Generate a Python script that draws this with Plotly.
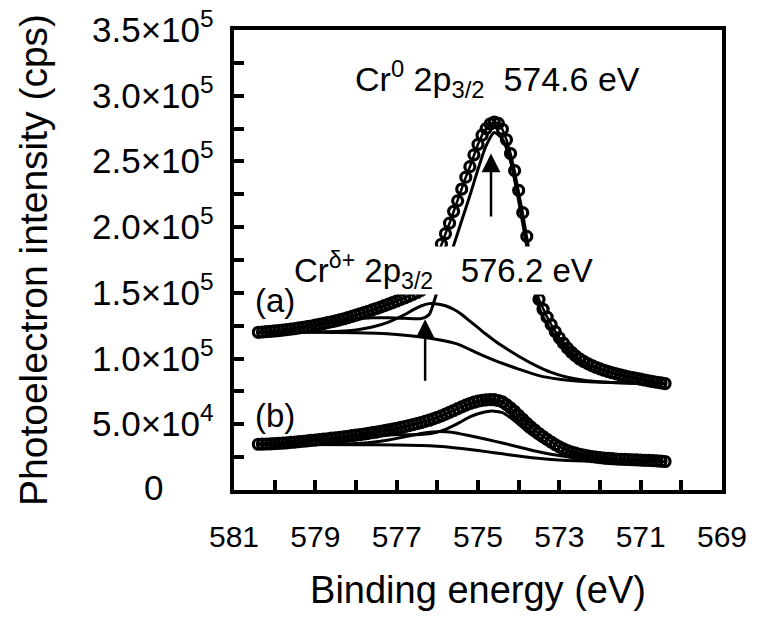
import plotly.graph_objects as go

# ---------------- data (intensity in units of 1e5 cps) ----------------
E = [580.4, 580.3, 580.2, 580.1, 580.0, 579.9, 579.8, 579.7, 579.6, 579.5,
     579.4, 579.3, 579.2, 579.1, 579.0, 578.9, 578.8, 578.7, 578.6, 578.5,
     578.4, 578.3, 578.2, 578.1, 578.0, 577.9, 577.8, 577.7, 577.6, 577.5,
     577.4, 577.3, 577.2, 577.1, 577.0, 576.9, 576.8, 576.7, 576.6, 576.5,
     576.4, 576.3, 576.2, 576.1, 576.0, 575.9, 575.8, 575.7, 575.6, 575.5,
     575.4, 575.3, 575.2, 575.1, 575.0, 574.9, 574.8, 574.7, 574.6, 574.5,
     574.4, 574.3, 574.2, 574.1, 574.0, 573.9, 573.8, 573.7, 573.6, 573.5,
     573.4, 573.3, 573.2, 573.1, 573.0, 572.9, 572.8, 572.7, 572.6, 572.5,
     572.4, 572.3, 572.2, 572.1, 572.0, 571.9, 571.8, 571.7, 571.6, 571.5,
     571.4, 571.3, 571.2, 571.1, 571.0, 570.9, 570.8, 570.7, 570.6, 570.5,
     570.4]

data_a = [1.200, 1.202, 1.205, 1.207, 1.210, 1.213, 1.217, 1.220, 1.224, 1.228,
          1.233, 1.238, 1.243, 1.248, 1.254, 1.260, 1.266, 1.273, 1.280, 1.287,
          1.295, 1.303, 1.312, 1.321, 1.330, 1.340, 1.350, 1.360, 1.370, 1.381,
          1.392, 1.403, 1.414, 1.426, 1.438, 1.450, 1.462, 1.475, 1.488, 1.503,
          1.520, 1.560, 1.615, 1.695, 1.785, 1.870, 1.950, 2.030, 2.120, 2.200,
          2.290, 2.380, 2.460, 2.550, 2.630, 2.700, 2.750, 2.785, 2.800, 2.790,
          2.745, 2.665, 2.560, 2.430, 2.280, 2.110, 1.930, 1.740, 1.565, 1.450,
          1.375, 1.315, 1.258, 1.205, 1.158, 1.117, 1.080, 1.048, 1.020, 0.997,
          0.978, 0.961, 0.947, 0.934, 0.922, 0.911, 0.901, 0.892, 0.884, 0.876,
          0.868, 0.861, 0.855, 0.849, 0.843, 0.837, 0.831, 0.825, 0.820, 0.815,
          0.810]

data_b = [0.348, 0.349, 0.350, 0.351, 0.353, 0.355, 0.357, 0.359, 0.362, 0.365,
          0.368, 0.371, 0.374, 0.377, 0.380, 0.383, 0.387, 0.390, 0.394, 0.397,
          0.401, 0.405, 0.409, 0.413, 0.417, 0.421, 0.426, 0.431, 0.436, 0.441,
          0.447, 0.452, 0.458, 0.464, 0.470, 0.476, 0.483, 0.490, 0.497, 0.505,
          0.513, 0.522, 0.531, 0.541, 0.552, 0.564, 0.577, 0.591, 0.605, 0.619,
          0.633, 0.646, 0.658, 0.668, 0.676, 0.682, 0.686, 0.688, 0.687, 0.681,
          0.670, 0.650, 0.625, 0.598, 0.568, 0.538, 0.508, 0.480, 0.455, 0.430,
          0.407, 0.385, 0.365, 0.345, 0.328, 0.313, 0.300, 0.289, 0.280, 0.272,
          0.265, 0.259, 0.254, 0.250, 0.246, 0.243, 0.240, 0.238, 0.236, 0.234,
          0.233, 0.232, 0.230, 0.229, 0.228, 0.226, 0.225, 0.223, 0.221, 0.219,
          0.217]

# background and fitted components, spectrum (a)
bg_a_E = [580.4, 579.0, 578.0, 577.5, 577.0, 576.5, 576.0, 575.5, 575.0, 574.5,
          574.0, 573.5, 573.0, 572.5, 572.0, 571.0, 570.4]
bg_a = [1.200, 1.200, 1.197, 1.192, 1.183, 1.168, 1.145, 1.110, 1.040, 0.975,
        0.920, 0.870, 0.843, 0.828, 0.820, 0.813, 0.810]

crd_a_E = [580.4, 579.0, 578.4, 578.0, 577.6, 577.2, 576.8, 576.6, 576.4, 576.2,
           576.0, 575.8, 575.6, 575.4, 575.2, 575.0, 574.8, 574.6, 574.4, 574.2,
           574.0, 573.6, 573.2, 572.8, 572.4, 572.0, 571.4, 570.4]
crd_a = [1.200, 1.202, 1.207, 1.218, 1.240, 1.278, 1.335, 1.370, 1.400, 1.418,
         1.416, 1.402, 1.375, 1.335, 1.285, 1.235, 1.185, 1.138, 1.095, 1.055,
         1.018, 0.950, 0.895, 0.858, 0.836, 0.824, 0.815, 0.810]

cr0_a_E = [580.4, 580.0, 579.6, 579.2, 578.8, 578.4, 578.0, 577.6, 577.2, 576.8,
           576.4, 576.2, 576.0, 575.8, 575.6, 575.4, 575.2, 575.0, 574.8, 574.6,
           574.4, 574.2, 574.0, 573.8, 573.6, 573.4, 573.2, 573.0, 572.8, 572.6,
           572.4, 572.2, 572.0, 571.6, 571.2, 570.8, 570.4]
cr0_a = [1.200, 1.209, 1.223, 1.241, 1.262, 1.282, 1.300, 1.310, 1.310, 1.306,
         1.304, 1.335, 1.515, 1.680, 1.860, 2.050, 2.240, 2.440, 2.620, 2.720,
         2.670, 2.500, 2.200, 1.850, 1.495, 1.317, 1.213, 1.123, 1.056, 1.003,
         0.968, 0.941, 0.918, 0.882, 0.854, 0.831, 0.810]

# background and fitted components, spectrum (b)
bg_b_E = [580.4, 578.0, 577.0, 576.4, 576.0, 575.6, 575.2, 574.8, 574.4, 574.0,
          573.6, 573.2, 572.8, 572.4, 572.0, 570.4]
bg_b = [0.348, 0.345, 0.342, 0.338, 0.332, 0.322, 0.308, 0.292, 0.275, 0.258,
        0.243, 0.232, 0.225, 0.221, 0.219, 0.217]

crd_b_E = [580.4, 579.0, 578.4, 578.0, 577.6, 577.2, 576.8, 576.4, 576.2, 576.0,
           575.8, 575.6, 575.4, 575.0, 574.6, 574.2, 573.8, 573.4, 573.0, 572.6,
           572.2, 571.8, 571.2, 570.4]
crd_b = [0.348, 0.347, 0.349, 0.354, 0.364, 0.381, 0.405, 0.430, 0.440, 0.444,
         0.443, 0.437, 0.425, 0.400, 0.372, 0.343, 0.312, 0.283, 0.262, 0.244,
         0.231, 0.224, 0.220, 0.217]

cr0_b_E = [580.4, 579.0, 578.4, 578.0, 577.6, 577.2, 576.8, 576.4, 576.2, 576.0,
           575.8, 575.6, 575.4, 575.2, 575.0, 574.8, 574.6, 574.4, 574.2, 574.0,
           573.8, 573.6, 573.4, 573.2, 573.0, 572.8, 572.6, 572.4, 572.2, 572.0,
           571.6, 571.2, 570.4]
cr0_b = [0.348, 0.378, 0.396, 0.407, 0.415, 0.419, 0.420, 0.423, 0.428, 0.440,
         0.461, 0.490, 0.523, 0.556, 0.580, 0.596, 0.600, 0.588, 0.549, 0.500,
         0.446, 0.402, 0.361, 0.325, 0.294, 0.272, 0.259, 0.250, 0.243, 0.239,
         0.233, 0.229, 0.217]

SCALE = 1e5  # the values above are in units of 1e5 cps

x_tickvals = [581, 579, 577, 575, 573, 571, 569]
x_ticktext = ["581", "579", "577", "575", "573", "571", "569"]
y_tickvals = [0, 50000, 100000, 150000, 200000, 250000, 300000, 350000]
y_ticktext = ["0", "5.0×10<sup>4</sup>", "1.0×10<sup>5</sup>", "1.5×10<sup>5</sup>",
              "2.0×10<sup>5</sup>", "2.5×10<sup>5</sup>", "3.0×10<sup>5</sup>",
              "3.5×10<sup>5</sup>"]

FONT = "Liberation Sans, Arial, sans-serif"
L, R, T, B = 234, 35, 30, 136


def sc(vals):
    return [v * SCALE for v in vals]


fig = go.Figure()

line_style = dict(color="black", width=3, shape="spline", smoothing=0.6)
for xs, ys in [(bg_a_E, bg_a), (crd_a_E, crd_a), (cr0_a_E, cr0_a),
               (bg_b_E, bg_b), (crd_b_E, crd_b), (cr0_b_E, cr0_b)]:
    fig.add_trace(go.Scatter(x=xs, y=sc(ys), mode="lines", line=line_style,
                             showlegend=False, hoverinfo="skip"))

for ys in (data_a, data_b):
    fig.add_trace(go.Scatter(x=E, y=sc(ys), mode="lines+markers",
                             line=dict(color="black", width=2.5),
                             marker=dict(symbol="circle-open", size=10, color="black",
                                         line=dict(width=3.2, color="black")),
                             showlegend=False, hoverinfo="skip"))

txt_font = dict(family=FONT, size=33, color="black")

# peak labels
fig.add_annotation(x=574.51, y=3.13e5, text="Cr<sup>0</sup> 2p<sub>3/2</sub>  574.6 eV",
                   showarrow=False, font=dict(family=FONT, size=34, color="black"),
                   xanchor="center", yanchor="middle")
fig.add_annotation(x=575.85, y=1.67e5,
                   text="Cr<sup>δ+</sup> 2p<sub>3/2</sub>   576.2 eV",
                   showarrow=False, font=txt_font, xanchor="center", yanchor="middle",
                   bgcolor="white", borderpad=0)
fig.add_annotation(x=580.0, y=1.44e5, text="(a)", showarrow=False, font=txt_font)
fig.add_annotation(x=580.0, y=0.57e5, text="(b)", showarrow=False, font=txt_font)

# arrows
for xa, ytip, ytail in [(574.68, 2.56e5, 2.07e5), (576.3, 1.30e5, 0.82e5)]:
    fig.add_annotation(x=xa, y=ytip, ax=xa, ay=ytail, axref="x", ayref="y",
                       xref="x", yref="y", text="", showarrow=True,
                       arrowhead=2, arrowsize=1.5, arrowwidth=2.5, arrowcolor="black")

# y tick labels (centred, as in the original figure)
for v, t in zip(y_tickvals, y_ticktext):
    fig.add_annotation(x=0, xref="paper", xshift=153 - L, y=v, yref="y", yshift=3,
                       text=t, showarrow=False, xanchor="center", yanchor="middle",
                       font=dict(family=FONT, size=35, color="black"))

# y axis title
fig.add_annotation(x=0, xref="paper", xshift=33 - L, y=0.5, yref="paper",
                   text="Photoelectron intensity (cps)", textangle=-90,
                   showarrow=False, xanchor="center", yanchor="middle",
                   font=dict(family=FONT, size=39, color="black"))

fig.update_xaxes(range=[581, 569], tickvals=x_tickvals, ticktext=x_ticktext,
                 ticks="inside", ticklen=10, tickwidth=3.5, tickcolor="black",
                 minor=dict(dtick=1, ticks="inside", ticklen=10, tickwidth=3.5,
                            tickcolor="black", tick0=569),
                 showline=True, linewidth=4, linecolor="black", mirror=True,
                 showgrid=False, zeroline=False, ticklabelstandoff=17,
                 tickfont=dict(family=FONT, size=30, color="black"),
                 title=dict(text="Binding energy (eV)", standoff=25,
                            font=dict(family=FONT, size=38, color="black")))
fig.update_yaxes(range=[0, 350000], tickvals=y_tickvals, showticklabels=False,
                 ticks="inside", ticklen=10, tickwidth=3.5, tickcolor="black",
                 minor=dict(dtick=25000, ticks="inside", ticklen=10, tickwidth=3.5,
                            tickcolor="black", tick0=0),
                 showline=True, linewidth=4, linecolor="black", mirror=True,
                 showgrid=False, zeroline=False)

fig.update_layout(width=759, height=626, plot_bgcolor="white", paper_bgcolor="white",
                  margin=dict(l=L, r=R, t=T, b=B), showlegend=False)

fig.write_html("out.html", config={"displayModeBar": False},
               post_script="document.body.style.margin='0px';"
                           "document.body.style.overflow='hidden';")
